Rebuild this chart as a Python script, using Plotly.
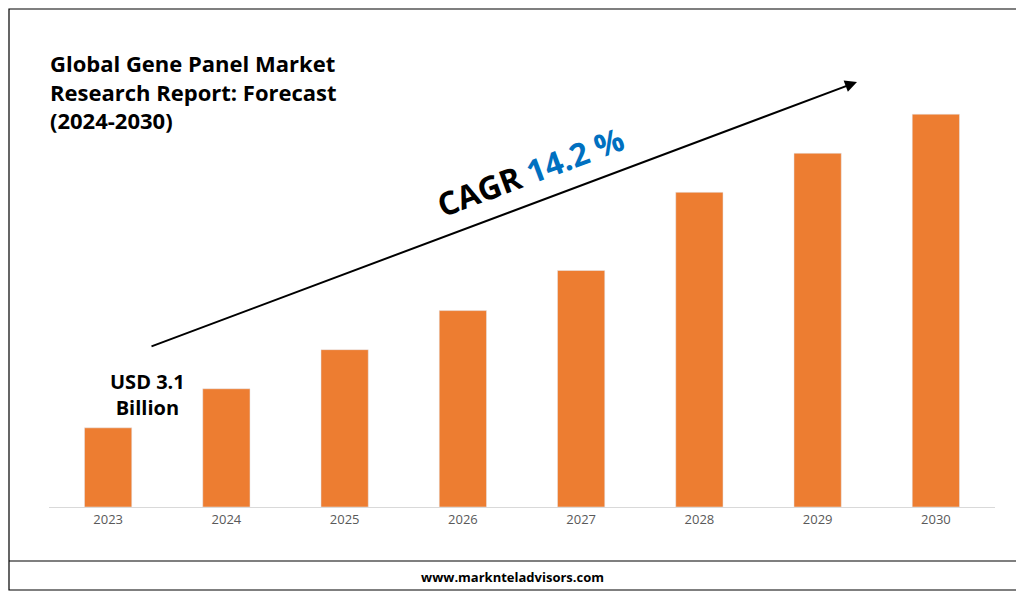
import plotly.graph_objects as go

years = ["2023", "2024", "2025", "2026", "2027", "2028", "2029", "2030"]
market_usd_bn = [3.1, 4.63, 6.16, 7.69, 9.26, 12.32, 13.85, 15.38]

# page puts the figure 8px in from the top-left corner
OFF = 8
W, H = 1024 - OFF, 596 - OFF
L, R, T, B = 49 - OFF, 29, 60 - OFF, 89
PW, PH = W - L - R, H - T - B


def px(x):
    return (x - OFF - L) / PW


def py(y):
    return (H - B - (y - OFF)) / PH


fig = go.Figure(go.Bar(
    x=years, y=market_usd_bn, marker_color="#ED7D31", width=0.4,
))

fig.update_layout(
    width=W, height=H,
    margin=dict(l=L, r=R, t=T, b=B),
    paper_bgcolor="white", plot_bgcolor="white",
    showlegend=False,
    font=dict(family="Open Sans", color="#000"),
)
fig.update_xaxes(showline=True, linecolor="#d9d9d9", linewidth=1,
                 tickfont=dict(size=13, color="#595959"), ticks="")
fig.update_yaxes(visible=False, range=[0, 17.5])

shapes = [
    # outer border
    dict(type="rect", xref="paper", yref="paper", x0=px(9), x1=px(1018),
         y0=py(590), y1=py(9), line=dict(color="#000", width=1.2)),
    # footer divider
    dict(type="line", xref="paper", yref="paper", x0=px(9), x1=px(1018),
         y0=py(561), y1=py(561), line=dict(color="#000", width=1.2)),
]
fig.update_layout(shapes=shapes)

# growth arrow (offsets in pixels from the head)
fig.add_annotation(xref="paper", yref="paper", x=px(857), y=py(82),
                   ax=150 - 857, ay=349 - 84,
                   showarrow=True, arrowhead=2, arrowsize=1.2, arrowwidth=2,
                   arrowcolor="#000", text="")
fig.add_annotation(xref="paper", yref="paper", x=px(530), y=py(114),
                   text="<b>CAGR <span style='color:#0070C0'>14.2 %</span></b>",
                   showarrow=False, textangle=-20.5,
                   font=dict(size=32, color="#000", family="Open Sans"))
fig.add_annotation(xref="paper", yref="paper", x=px(48), y=py(46),
                   xanchor="left", yanchor="top", align="left",
                   text="<b>Global Gene Panel Market<br>Research Report: Forecast<br>(2024-2030)</b>",
                   showarrow=False, font=dict(size=22))
fig.add_annotation(xref="paper", yref="paper", x=px(108), y=py(423),
                   text="<b>USD 3.1<br>Billion</b>", showarrow=False,
                   font=dict(size=20))
fig.add_annotation(xref="paper", yref="paper", x=px(512), y=py(588),
                   text="<b>www.marknteladvisors.com</b>", showarrow=False,
                   font=dict(size=13))

fig.write_html("out.html")
